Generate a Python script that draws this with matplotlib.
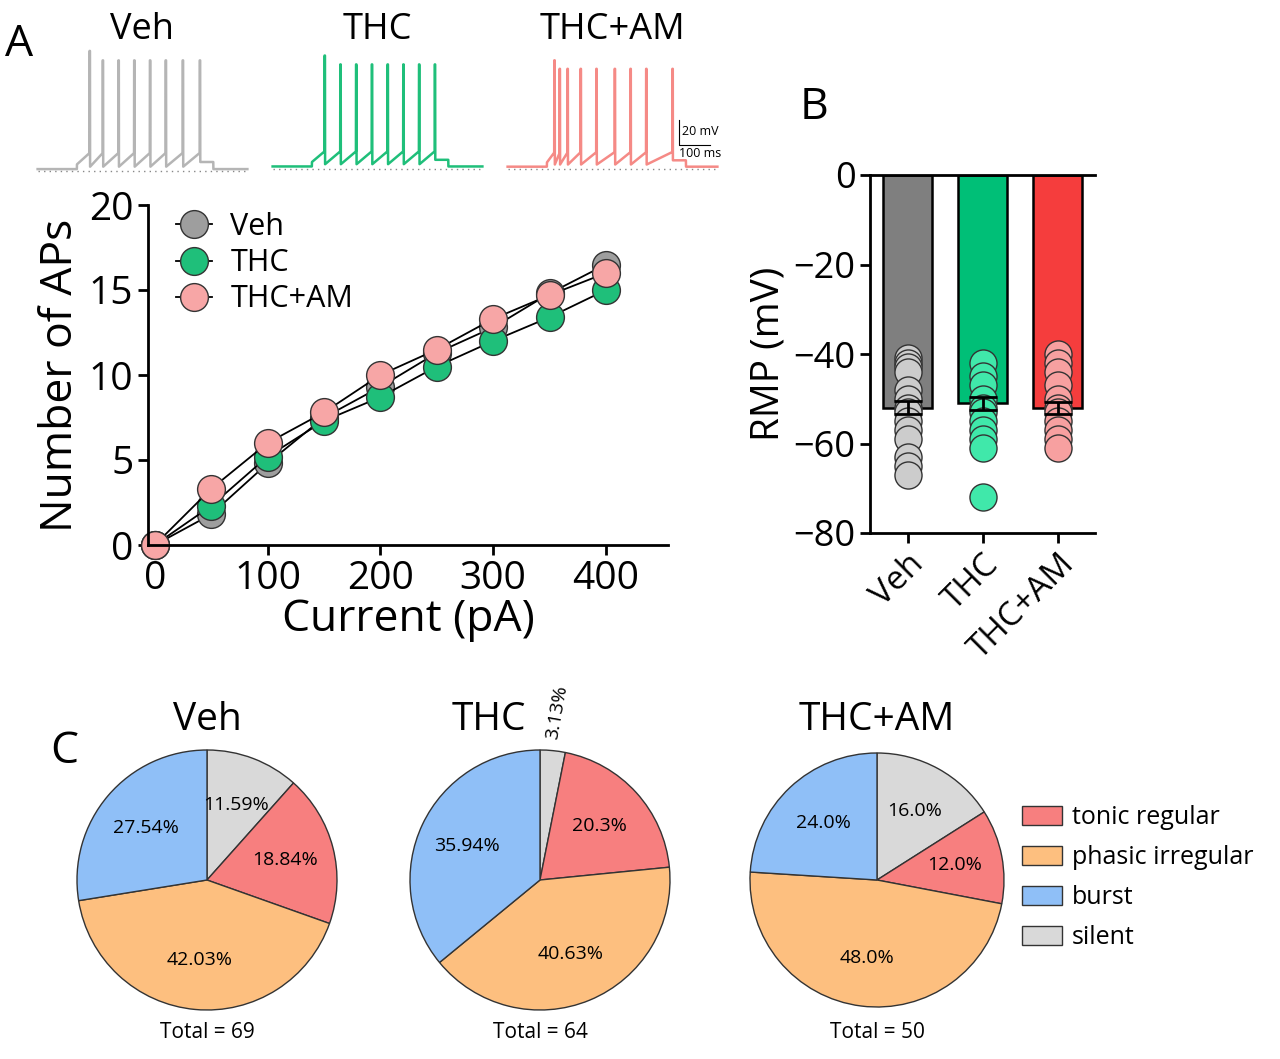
import matplotlib
matplotlib.use("Agg")
import matplotlib.pyplot as plt
import numpy as np

plt.rcParams['font.family'] = ['Open Sans', 'DejaVu Sans']

groups = ["Veh", "THC", "THC+AM"]
currents = [0, 50, 100, 150, 200, 250, 300, 350, 400]
aps_veh = [0, 1.8, 4.8, 7.5, 9.3, 11.3, 12.8, 14.8, 16.5]
aps_thc = [0, 2.3, 5.2, 7.3, 8.7, 10.5, 12.0, 13.4, 15.0]
aps_am = [0, 3.3, 6.0, 7.8, 10.0, 11.5, 13.3, 14.7, 16.0]

rmp_means = [-52, -51, -52]
rmp_sem = [1.5, 1.5, 1.3]
rmp_veh = [-41, -42, -43, -44, -48, -50, -52, -53, -55, -57, -59, -63, -65, -67]
rmp_thc = [-42, -45, -47, -50, -52, -53, -55, -57, -59, -61, -72]
rmp_am = [-40, -42, -44, -47, -50, -52, -53, -55, -57, -59, -61]

pie_labels = ["silent", "tonic regular", "phasic irregular", "burst"]
pie_veh = [11.59, 18.84, 42.03, 27.54]
pie_thc = [3.13, 20.3, 40.63, 35.94]
pie_am = [16.0, 12.0, 48.0, 24.0]
pie_txt_veh = ["11.59%", "18.84%", "42.03%", "27.54%"]
pie_txt_thc = ["3.13%", "20.3%", "40.63%", "35.94%"]
pie_txt_am = ["16.0%", "12.0%", "48.0%", "24.0%"]
totals = [69, 64, 50]

spikes_veh = [0.1, 0.2, 0.32, 0.44, 0.56, 0.68, 0.81, 0.94]
spikes_thc = [0.1, 0.22, 0.34, 0.46, 0.58, 0.7, 0.82, 0.94]
spikes_am = [0.06, 0.1, 0.16, 0.26, 0.38, 0.52, 0.64, 0.76, 0.96]

W, H = 1280, 1059
fig = plt.figure(figsize=(12.8, 10.59), dpi=100)
def ax_px(l, t, r, b):
    return fig.add_axes([l / W, 1 - b / H, (r - l) / W, (b - t) / H])

trace_cols = ["#b5b5b5", "#1fbf7a", "#f58a86"]
trace_boxes = [(35, 45, 250, 175), (270, 50, 485, 172), (505, 55, 720, 172)]
for spk, col, box, name in zip([spikes_veh, spikes_thc, spikes_am], trace_cols, trace_boxes, groups):
    a = ax_px(*box)
    t = np.linspace(-0.3, 1.3, 1600)
    v = np.zeros_like(t)
    on = (t > 0.0) & (t < spk[-1] + 0.06)
    for k, s in enumerate(spk):
        prev = spk[k - 1] if k > 0 else 0.0
        seg = (t >= prev) & (t < s)
        if k == 0:
            v[seg] = 4 + 10 * (t[seg] - prev) / max(s - prev, 1e-3)
        else:
            v[seg] = 2 + 12 * (t[seg] - prev) / (s - prev)
        pk = np.abs(t - s) < 0.004
        v[pk] = 100 if k == 0 else 92
    tail = (t >= spk[-1]) & (t < spk[-1] + 0.1)
    v[tail] = 6
    a.plot(t, v, color=col, lw=1.8)
    a.plot([-0.3, 1.3], [-2, -2], ls=(0, (1, 3)), color="#888888", lw=1)
    a.set_xlim(-0.32, 1.32); a.set_ylim(-5, 105)
    a.axis("off")
    fig.text((box[0] + box[2]) / 2 / W, 1 - 30 / H, name, ha="center", va="center", fontsize=26)
sb = ax_px(676, 115, 740, 160)
sb.plot([0, 0, 0.5], [1, 0, 0], color="k", lw=0.8)
sb.text(0.05, 0.55, "20 mV", fontsize=9, va="center")
sb.text(0.0, -0.35, "100 ms", fontsize=9, va="center")
sb.set_xlim(-0.05, 1); sb.set_ylim(-0.6, 1.2); sb.axis("off")

fig.text(5 / W, 1 - 45 / H, "A", fontsize=32, va="center")
fig.text(800 / W, 1 - 108 / H, "B", fontsize=32, va="center")
fig.text(50 / W, 1 - 752 / H, "C", fontsize=32, va="center")

ax = ax_px(148, 205, 668, 545)
ms = [("#9e9e9e", aps_veh, "Veh"), ("#1fbf7a", aps_thc, "THC"), ("#f7a6a6", aps_am, "THC+AM")]
for col, y, lab in ms:
    ax.plot(currents, y, "-o", color="k", mfc=col, mec="#333333", ms=20, lw=1.3, label=lab, clip_on=False)
ax.set_xlim(-6, 455); ax.set_ylim(0, 20)
ax.set_xticks([0, 100, 200, 300, 400]); ax.set_yticks([0, 5, 10, 15, 20])
ax.spines[["top", "right"]].set_visible(False)
for s in ["left", "bottom"]:
    ax.spines[s].set_linewidth(2)
ax.tick_params(labelsize=28, width=2, length=7)
ax.set_xlabel("Current (pA)", fontsize=32, labelpad=0)
ax.set_ylabel("Number of APs", fontsize=32)
ax.legend(loc="upper left", bbox_to_anchor=(0.0, 1.06), frameon=False, fontsize=22,
          handlelength=1.2, labelspacing=0.2, handletextpad=0.6)

bx = ax_px(870, 175, 1095, 533)
bar_cols = ["#7f7f7f", "#00bf77", "#f53d3d"]
dot_cols = ["#cccccc", "#40e8aa", "#f7a0a0"]
xs = np.arange(3)
bx.bar(xs, rmp_means, width=0.65, color=bar_cols, edgecolor="k", lw=1.8)
for i, d in enumerate([rmp_veh, rmp_thc, rmp_am]):
    bx.scatter(np.full(len(d), i), d, s=380, c=dot_cols[i], edgecolors="#333333", lw=1, zorder=3)
    bx.errorbar(i, rmp_means[i], yerr=rmp_sem[i], color="k", capsize=10, lw=2, capthick=2, zorder=4)
bx.set_ylim(-80, 0); bx.set_xlim(-0.5, 2.5)
bx.set_yticks([0, -20, -40, -60, -80])
bx.set_yticklabels(["0", "\u221220", "\u221240", "\u221260", "\u221280"])
bx.set_xticks(xs); bx.set_xticklabels(groups)
bx.spines[["bottom", "right"]].set_visible(False)
bx.spines["top"].set_position(("data", 0))
bx.spines["left"].set_linewidth(2); bx.spines["top"].set_linewidth(2)
bx.axhline(-80, color="k", lw=2, zorder=5, clip_on=False)
bx.tick_params(labelsize=26, width=2, length=7)
plt.setp(bx.get_xticklabels(), rotation=45, ha="right", rotation_mode="anchor", fontsize=24)
bx.set_ylabel("RMP (mV)", fontsize=28)

pie_cols = ["#d9d9d9", "#f77f7f", "#fdbf7f", "#8fbff7"]
centers = [(207, 880, 130), (540, 880, 130), (877, 880, 127)]
for (cx, cy, r), vals, txt, name, tot in zip(centers, [pie_veh, pie_thc, pie_am],
                                          [pie_txt_veh, pie_txt_thc, pie_txt_am], groups, totals):
    pa = ax_px(cx - r, cy - r, cx + r, cy + r)
    pa.pie(vals, colors=pie_cols, startangle=90, counterclock=False,
           wedgeprops=dict(edgecolor="#333333", lw=1))
    cum = 0
    for i, (v, t) in enumerate(zip(vals, txt)):
        ang = np.deg2rad(90 - (cum + v / 2) * 3.6)
        cum += v
        if v < 5:
            pa.text(1.3 * np.cos(ang), 1.3 * np.sin(ang), t, rotation=80, ha="center", va="center", fontsize=14)
        else:
            rr = 0.62
            pa.text(rr * np.cos(ang), rr * np.sin(ang), t, ha="center", va="center", fontsize=14)
    pa.set_xlim(-1, 1); pa.set_ylim(-1, 1)
    fig.text(cx / W - (0.04 if name == "THC" else 0), 1 - 720 / H, name, ha="center", va="center", fontsize=28)
    fig.text(cx / W, 1 - 1032 / H, f"Total = {tot}", ha="center", va="center", fontsize=15)

from matplotlib.patches import Patch
handles = [Patch(facecolor=pie_cols[i], edgecolor="#333333") for i in [1, 2, 3, 0]]
fig.legend(handles, [pie_labels[i] for i in [1, 2, 3, 0]], loc="center left",
           bbox_to_anchor=(1022 / W, 1 - 878 / H), frameon=False, fontsize=18,
           handlelength=1.6, handleheight=0.8, labelspacing=0.6, handletextpad=0.4,
           borderaxespad=0, borderpad=0)

fig.savefig("out.png", dpi=100)
